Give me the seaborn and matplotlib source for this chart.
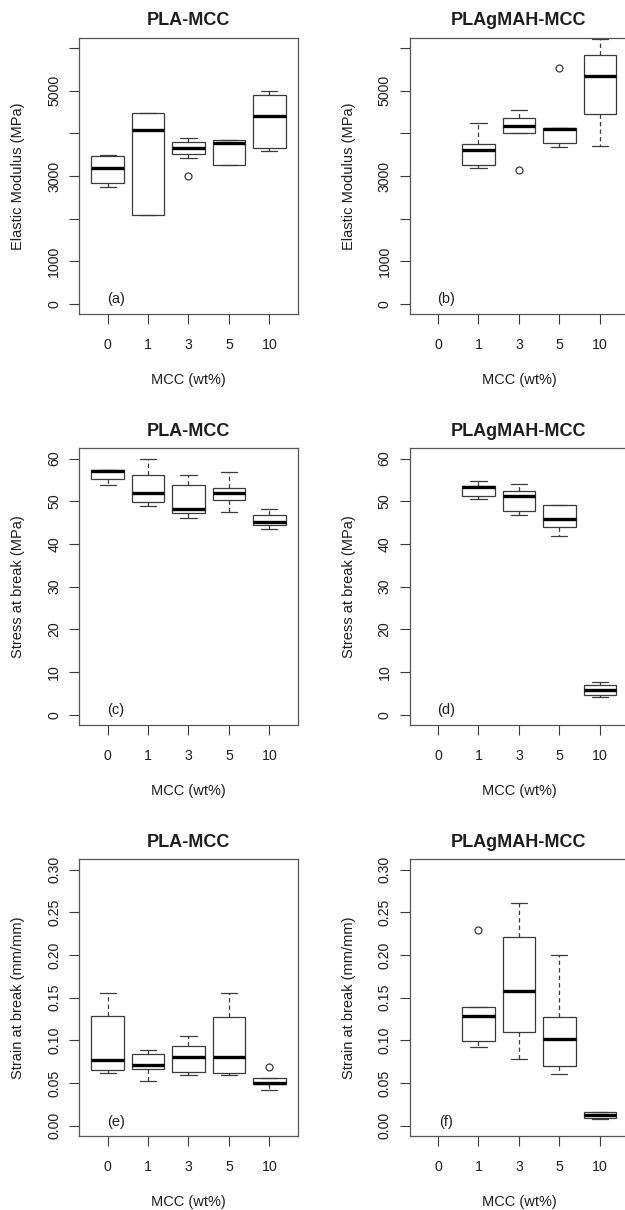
import matplotlib
matplotlib.use("Agg")
import matplotlib.pyplot as plt
import seaborn as sns
import pandas as pd

# MCC loading levels (wt%)
MCC = ["0", "1", "3", "5", "10"]

# Elastic modulus (MPa) per MCC level
modulus_pla = {
    "0": [2734, 2828, 3180, 3461, 3484],
    "1": [2078, 2078, 4070, 4484, 4484],
    "3": [2992, 3422, 3508, 3580, 3656, 3720, 3789, 3840, 3883],
    "5": [3250, 3250, 3781, 3852, 3852],
    "10": [3586, 3656, 4414, 4898, 5000],
}
modulus_gmah = {
    "1": [3195, 3266, 3602, 3758, 4234],
    "3": [3141, 4016, 4016, 4100, 4180, 4270, 4359, 4450, 4555],
    "5": [3672, 3720, 3766, 3900, 4094, 4110, 4133, 4133, 5523],
    "10": [3695, 4445, 5352, 5844, 6203],
}

# Stress at break (MPa)
stress_pla = {
    "0": [53.7, 55.1, 57.0, 57.25, 57.25],
    "1": [49.0, 49.9, 51.9, 56.2, 59.9],
    "3": [46.1, 47.35, 48.3, 53.9, 56.1],
    "5": [47.4, 50.2, 51.9, 53.0, 56.9],
    "10": [43.45, 44.4, 45.2, 46.8, 48.3],
}
stress_gmah = {
    "1": [50.6, 51.25, 53.3, 53.5, 54.7],
    "3": [46.7, 47.6, 51.3, 52.4, 54.1],
    "5": [41.8, 44.0, 45.9, 49.2, 49.2],
    "10": [4.1, 4.7, 5.8, 7.0, 7.6],
}

# Strain at break (mm/mm)
strain_pla = {
    "0": [0.062, 0.065, 0.077, 0.128, 0.156],
    "1": [0.0527, 0.0664, 0.0715, 0.084, 0.0887],
    "3": [0.0594, 0.063, 0.080, 0.093, 0.1055],
    "5": [0.0598, 0.0613, 0.081, 0.1273, 0.1551],
    "10": [0.0418, 0.046, 0.0484, 0.049, 0.0496, 0.052, 0.0555, 0.0555, 0.0684],
}
strain_gmah = {
    "1": [0.0918, 0.095, 0.0988, 0.115, 0.1281, 0.134, 0.1395, 0.1395, 0.2293],
    "3": [0.0781, 0.1094, 0.1574, 0.2215, 0.2605],
    "5": [0.0609, 0.0699, 0.1012, 0.127, 0.1996],
    "10": [0.008, 0.009, 0.0129, 0.0156, 0.0164],
}

titles = ["PLA-MCC", "PLAgMAH-MCC"]
panel_tags = ["(a)", "(b)", "(c)", "(d)", "(e)", "(f)"]
row_ylabels = ["Elastic Modulus (MPa)", "Stress at break (MPa)", "Strain at break (mm/mm)"]
row_yticks = [
    [0, 1000, 2000, 3000, 4000, 5000, 6000],
    [0, 10, 20, 30, 40, 50, 60],
    [0.00, 0.05, 0.10, 0.15, 0.20, 0.25, 0.30],
]
row_yticklabels = [
    ["0", "1000", "", "3000", "", "5000", ""],
    ["0", "10", "20", "30", "40", "50", "60"],
    ["0.00", "0.05", "0.10", "0.15", "0.20", "0.25", "0.30"],
]
row_ymax = [6000, 60, 0.30]
row_tag_y = [120, 1.1, 0.004]

panels = [
    [modulus_pla, modulus_gmah],
    [stress_pla, stress_gmah],
    [strain_pla, strain_gmah],
]


def to_frame(groups):
    rows = []
    for k, vals in groups.items():
        for v in vals:
            rows.append({"mcc": k, "value": v})
    return pd.DataFrame(rows)


sns.set_style("ticks")
plt.rcParams["font.family"] = ["Liberation Sans", "DejaVu Sans"]

W, H = 625, 1210
fig = plt.figure(figsize=(W / 100, H / 100), dpi=100)

col_left = [79.3, 409.7]
ax_w = 218.4
row_top = [37.7, 448.3, 859.3]
ax_h = 276.7

LINE = "#3a3a3a"
TEXT = "#1e1e1e"

for r in range(3):
    for c in range(2):
        left = col_left[c] / W
        bottom = 1 - (row_top[r] + ax_h) / H
        ax = fig.add_axes([left, bottom, ax_w / W, ax_h / H])
        df = to_frame(panels[r][c])
        sns.boxplot(
            data=df, x="mcc", y="value", order=MCC, ax=ax,
            color="white", linecolor=LINE, linewidth=0.9, width=0.8, whis=1.5,
            medianprops=dict(color="black", linewidth=2.4),
            whiskerprops=dict(linestyle=(0, (3.5, 2.5)), linewidth=0.9),
            capprops=dict(linewidth=0.9),
            flierprops=dict(marker="o", markersize=5, markerfacecolor="none",
                            markeredgecolor=LINE, markeredgewidth=0.9),
        )
        ymax = row_ymax[r]
        pad = 0.04 * ymax
        ax.set_ylim(-pad, ymax + pad)
        ax.set_xlim(-0.7, 4.7)

        ax.set_yticks(row_yticks[r])
        ax.set_yticklabels(row_yticklabels[r])
        ax.set_xticks(range(len(MCC)))
        ax.set_xticklabels(MCC)

        ax.tick_params(axis="both", direction="out", length=7, width=0.8,
                       color=LINE, labelcolor=TEXT, labelsize=10.2,
                       bottom=True, left=True, top=False, right=False)
        ax.tick_params(axis="x", pad=10)
        ax.tick_params(axis="y", pad=6, labelrotation=90)
        for lbl in ax.get_yticklabels():
            lbl.set_va("center")
            lbl.set_ha("right")

        for sp in ax.spines.values():
            sp.set_visible(True)
            sp.set_color("#555555")
            sp.set_linewidth(0.9)

        ax.set_title(titles[c], fontsize=13, fontweight="bold", color=TEXT, pad=9)

        ax.set_xlabel("MCC (wt%)", fontsize=10.5, color=TEXT, va="center")
        ax.xaxis.set_label_coords(0.5, -66 / ax_h)
        ax.set_ylabel(row_ylabels[r], fontsize=10.5, color=TEXT, va="center")
        ax.yaxis.set_label_coords(-61 / ax_w, 0.5)

        ax.text(0.2, row_tag_y[r], panel_tags[2 * r + c], ha="center", va="center",
                fontsize=10.5, color=TEXT)

fig.savefig("out.png", dpi=100, facecolor="white")
